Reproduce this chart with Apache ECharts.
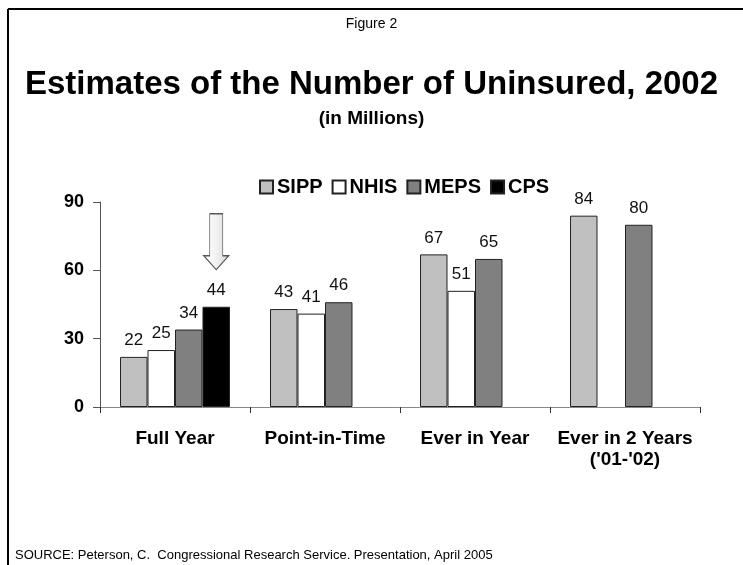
<!DOCTYPE html>
<html lang="en">
	<head>
		<meta charset="UTF-8" />
		<title>Estimates of the Number of Uninsured, 2002</title>
		<script src="https://cdn.jsdelivr.net/npm/echarts@6/dist/echarts.min.js"></script>
		<style>
			html, body { margin: 0; padding: 0; background: #fff; }
			#main { width: 743px; height: 565px; }
		</style>
	</head>
	<body>
		<div id="main"></div>
		<script>
			// data
			var categories = ["Full Year", "Point-in-Time", "Ever in Year", "Ever in 2 Years\n('01-'02)"];
			var sipp = [22, 43, 67, 84];
			var nhis = [25, 41, 51, "-"];
			var meps = [34, 46, 65, 80];
			var cps = [44, "-", "-", "-"];
			var yTicks = [0, 30, 60, 90];

			var myChart = echarts.init(document.getElementById("main"));

			var sans = "Liberation Sans, Arial, Helvetica, sans-serif";
			var narrow = "Liberation Sans Narrow, Arial Narrow, Liberation Sans, sans-serif";

			function barSeries(name, data, color) {
				return {
					name: name,
					type: "bar",
					data: data,
					barGap: 0,
					barCategoryGap: "26.7%",
					itemStyle: { color: color, borderColor: "#222", borderWidth: 1 },
					label: {
						show: true,
						position: "top",
						distance: 8,
						color: "#111",
						fontFamily: narrow,
						fontSize: 17,
					},
				};
			}

			var cpsSeries = barSeries("CPS", cps, "#000");
			// the block arrow pointing at the CPS bar
			cpsSeries.markPoint = {
				silent: true,
				symbol: "path://M6,0 L19,0 L19,42 L25,42 L12.5,56 L0,42 L6,42 Z",
				symbolSize: [25, 56],
				symbolOffset: [0, -65],
				itemStyle: {
					color: {
						type: "linear", x: 0, y: 0, x2: 1, y2: 0,
						colorStops: [
							{ offset: 0, color: "#ffffff" },
							{ offset: 0.5, color: "#f2f2f2" },
							{ offset: 1, color: "#d8d8d8" },
						],
					},
					borderColor: "#555",
					borderWidth: 1,
				},
				label: { show: false },
				data: [{ coord: [categories[0], cps[0]] }],
			};

			var option = {
				animation: false,
				backgroundColor: "#fff",
				title: [
					{
						text: "Figure 2",
						left: "center",
						top: 12,
						textStyle: { fontFamily: sans, fontSize: 14, fontWeight: "normal", color: "#000" },
					},
					{
						text: "Estimates of the Number of Uninsured, 2002",
						left: "center",
						top: 63,
						textStyle: { fontFamily: sans, fontSize: 33, fontWeight: "bold", color: "#000" },
					},
					{
						text: "(in Millions)",
						left: "center",
						top: 104,
						textStyle: { fontFamily: sans, fontSize: 19, fontWeight: "bold", color: "#000" },
					},
					{
						text: "SOURCE: Peterson, C.  Congressional Research Service. Presentation, April 2005",
						left: 10,
						top: 544,
						textStyle: { fontFamily: sans, fontSize: 13, fontWeight: "normal", color: "#000" },
					},
				],
				legend: {
					left: 254,
					top: 172,
					icon: "rect",
					itemWidth: 13,
					itemHeight: 13,
					itemGap: 9,
					textStyle: { fontFamily: sans, fontSize: 20, fontWeight: "bold", color: "#000", padding: [0, 0, 0, -1] },
					data: ["SIPP", "NHIS", "MEPS", "CPS"],
				},
				grid: { left: 100, right: 43, top: 202, bottom: 158, containLabel: false },
				xAxis: {
					type: "category",
					data: categories,
					axisLine: { lineStyle: { color: "#888", width: 1 } },
					axisTick: { show: true, length: 6, lineStyle: { color: "#333" } },
					axisLabel: {
						margin: 21,
						interval: 0,
						color: "#000",
						fontFamily: sans,
						fontSize: 19,
						fontWeight: "bold",
						lineHeight: 21,
					},
				},
				yAxis: {
					type: "value",
					min: yTicks[0],
					max: yTicks[yTicks.length - 1],
					interval: yTicks[1] - yTicks[0],
					splitLine: { show: false },
					axisLine: { show: true, lineStyle: { color: "#555", width: 1 } },
					axisTick: { show: true, length: 7, lineStyle: { color: "#555" } },
					axisLabel: {
						margin: 16,
						color: "#000",
						fontFamily: sans,
						fontSize: 18,
						fontWeight: "bold",
					},
				},
				graphic: [
					// frame lines at the top and left of the figure
					{ type: "line", shape: { x1: 8, y1: 9, x2: 743, y2: 9 }, style: { stroke: "#000", lineWidth: 2 } },
					{ type: "line", shape: { x1: 8, y1: 9, x2: 8, y2: 565 }, style: { stroke: "#000", lineWidth: 2 } },
				],
				series: [
					barSeries("SIPP", sipp, "#c0c0c0"),
					barSeries("NHIS", nhis, "#ffffff"),
					barSeries("MEPS", meps, "#808080"),
					cpsSeries,
				],
			};

			myChart.setOption(option);
		</script>
	</body>
</html>
